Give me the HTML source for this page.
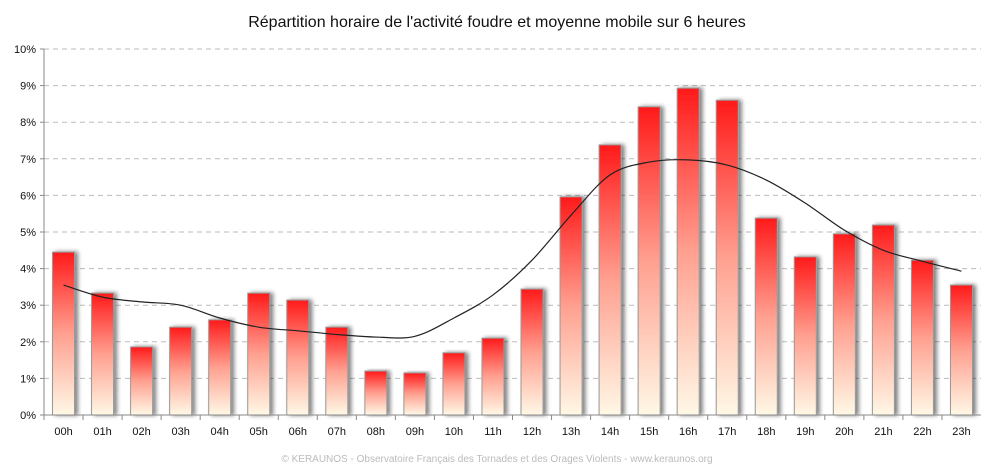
<!DOCTYPE html>
<html><head><meta charset="utf-8"><style>
body{margin:0;background:#fff;width:994px;height:471px;overflow:hidden;font-family:"Liberation Sans",sans-serif}
</style></head><body>
<svg id="c" width="994" height="471" xmlns="http://www.w3.org/2000/svg">
<defs>
<linearGradient id="g" x1="0" y1="0" x2="0" y2="1"><stop offset="0" stop-color="#ff1a1a"/><stop offset="0.5" stop-color="#ffa090"/><stop offset="1" stop-color="#fff8e6"/></linearGradient>
<filter id="sh" x="-20%" y="-5%" width="160%" height="110%"><feGaussianBlur in="SourceAlpha" stdDeviation="2"/><feOffset dx="3" dy="0"/><feComponentTransfer><feFuncA type="linear" slope="0.5"/></feComponentTransfer><feMerge><feMergeNode/><feMergeNode in="SourceGraphic"/></feMerge></filter>
</defs>
<text x="497" y="27" text-anchor="middle" font-size="16" fill="#111">Répartition horaire de l'activité foudre et moyenne mobile sur 6 heures</text>
<g id="grid"></g><g id="bars"></g><g id="line"></g><g id="axes"></g>
<text x="497" y="462" text-anchor="middle" font-size="10" fill="#bbb">© KERAUNOS - Observatoire Français des Tornades et des Orages Violents - www.keraunos.org</text>
</svg>
<script>
const categories=["00h","01h","02h","03h","04h","05h","06h","07h","08h","09h","10h","11h","12h","13h","14h","15h","16h","17h","18h","19h","20h","21h","22h","23h"];
const activity=[4.45,3.33,1.86,2.4,2.6,3.33,3.14,2.4,1.2,1.15,1.7,2.1,3.44,5.96,7.38,8.42,8.93,8.6,5.38,4.32,4.95,5.19,4.23,3.55];
const movingAvg=[3.55,3.22,3.09,3.0,2.65,2.4,2.3,2.2,2.13,2.15,2.65,3.28,4.23,5.46,6.56,6.91,6.97,6.83,6.42,5.79,5.05,4.5,4.2,3.93];
const yTicks=[0,1,2,3,4,5,6,7,8,9,10];
const NS="http://www.w3.org/2000/svg";
const X0=44,X1=981,Y0=415,Y1=49,YMAX=10;
const step=(X1-X0)/categories.length;
const xc=i=>X0+step*(i+0.5);
const y=v=>Y0-(v/YMAX)*(Y0-Y1);
function mk(t,a,p){const e=document.createElementNS(NS,t);for(const k in a)e.setAttribute(k,a[k]);p.appendChild(e);return e;}
const grid=document.getElementById('grid'),axes=document.getElementById('axes'),bars=document.getElementById('bars'),line=document.getElementById('line');
yTicks.forEach(t=>{
 if(t>0){const l=mk('line',{x1:X0,x2:X1,y1:y(t),y2:y(t),stroke:'#bbb','stroke-dasharray':'5,4'},grid);
 
 }
 const tk=mk('line',{x1:X0-4,x2:X0,y1:y(t),y2:y(t),stroke:'#888'},axes);
 const tx=mk('text',{x:X0-8,y:y(t)+4,'text-anchor':'end','font-size':11,fill:'#111'},axes);tx.textContent=t+'%';
 
 
});
mk('line',{x1:X0,x2:X0,y1:Y1,y2:Y0,stroke:'#888'},axes);
mk('line',{x1:X0,x2:X1,y1:Y0,y2:Y0,stroke:'#888'},axes);
categories.forEach((c,i)=>{
 mk('line',{x1:X0+step*i,x2:X0+step*i,y1:Y0,y2:Y0+5,stroke:'#888'},axes);
 const tx=mk('text',{x:xc(i),y:Y0+20,'text-anchor':'middle','font-size':11,fill:'#111'},axes);tx.textContent=c;
 
 
 const bw=22;
 const r=mk('rect',{x:xc(i)-bw/2,y:y(activity[i]),width:bw,height:Y0-y(activity[i]),fill:'url(#g)',stroke:'#999','stroke-width':1,filter:'url(#sh)'},bars);
 
 
});
const pts=movingAvg.map((v,i)=>[xc(i),y(v)]);
let d='M'+pts[0][0]+','+pts[0][1];
for(let i=0;i<pts.length-1;i++){
 const p0=pts[Math.max(0,i-1)],p1=pts[i],p2=pts[i+1],p3=pts[Math.min(pts.length-1,i+2)];
 const c1=[p1[0]+(p2[0]-p0[0])/6,p1[1]+(p2[1]-p0[1])/6],c2=[p2[0]-(p3[0]-p1[0])/6,p2[1]-(p3[1]-p1[1])/6];
 d+=` C${c1[0]},${c1[1]} ${c2[0]},${c2[1]} ${p2[0]},${p2[1]}`;
}
const pl=mk('path',{d:d,fill:'none',stroke:'#222','stroke-width':1.2},line);


</script>
</body></html>
